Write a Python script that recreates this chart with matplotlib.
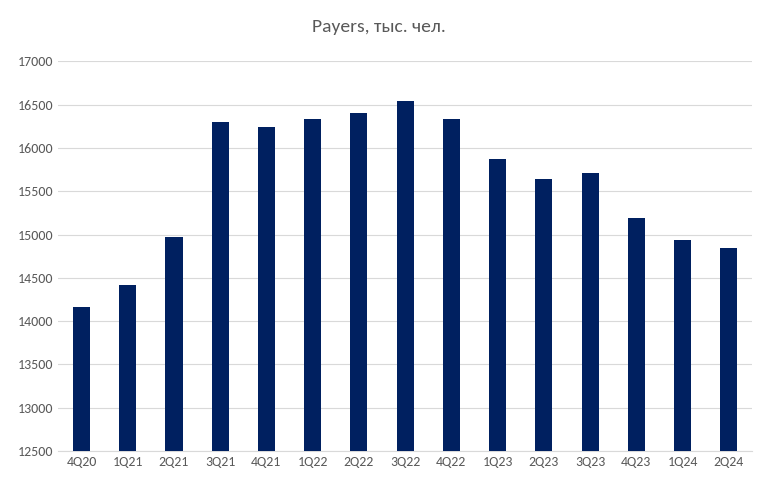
import matplotlib.pyplot as plt

quarters = ["4Q20", "1Q21", "2Q21", "3Q21", "4Q21", "1Q22", "2Q22", "3Q22",
            "4Q22", "1Q23", "2Q23", "3Q23", "4Q23", "1Q24", "2Q24"]
payers = [14160, 14420, 14970, 16305, 16245, 16340, 16400, 16540,
          16340, 15875, 15640, 15715, 15190, 14935, 14845]
yticks = list(range(12500, 17001, 500))

plt.rcParams['font.family'] = ['Calibri', 'Carlito', 'DejaVu Sans']
fig = plt.figure(figsize=(7.58, 4.87), dpi=100)
ax = fig.add_axes([0.077, 0.074, 0.915, 0.800])

ax.bar(range(len(quarters)), payers, width=0.37, color='#002060', zorder=3)
ax.set_ylim(12500, 17000)
ax.set_xlim(-0.5, len(quarters) - 0.5)
ax.set_yticks(yticks)
ax.set_xticks(range(len(quarters)))
ax.set_xticklabels(quarters)
ax.tick_params(axis='both', length=0, labelsize=10, colors='#595959')
ax.grid(axis='y', color='#d9d9d9', linewidth=0.8, zorder=0)
for s in ['top', 'right', 'left']:
    ax.spines[s].set_visible(False)
ax.spines['bottom'].set_color('#d9d9d9')
fig.suptitle("Payers, тыс. чел.", y=0.96, fontsize=14, color='#595959')

fig.savefig('out.png')
